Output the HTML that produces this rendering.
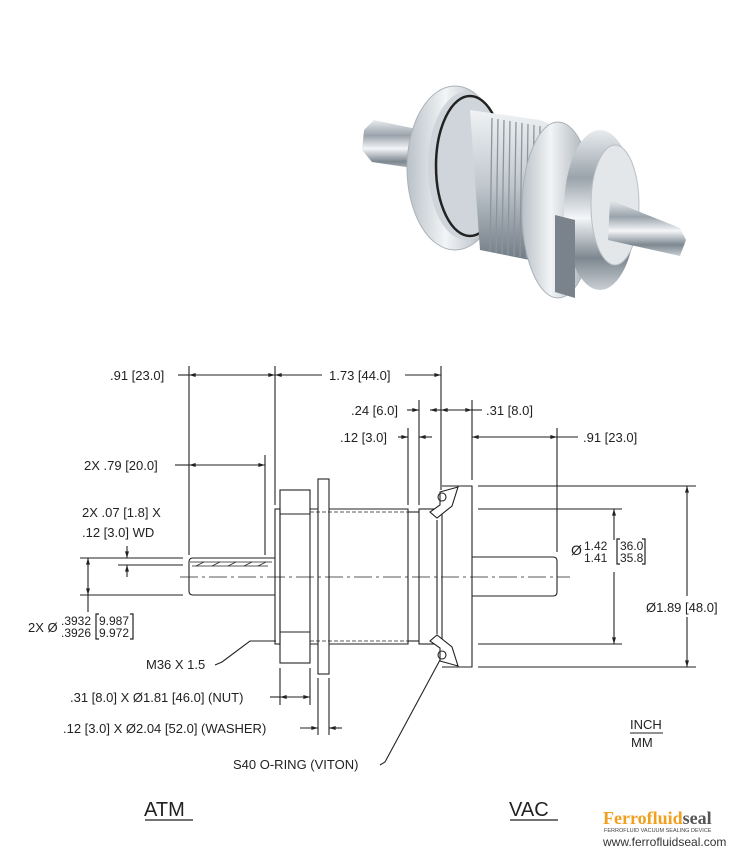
<!DOCTYPE html>
<html><head><meta charset="utf-8"><style>
html,body{margin:0;padding:0;background:#fff;}
svg{display:block;}
text{font-family:"Liberation Sans",Arial,sans-serif;fill:#222;}
text.logo{font-family:"Liberation Serif",serif;font-weight:bold;}
</style></head><body>
<svg width="750" height="850" viewBox="0 0 750 850" xmlns="http://www.w3.org/2000/svg">
<defs>
<marker id="a" viewBox="0 0 10 6" refX="10" refY="3" markerWidth="8" markerHeight="4" orient="auto-start-reverse" markerUnits="userSpaceOnUse"><path d="M0,0L10,3L0,6z" fill="#222"/></marker>
<linearGradient id="m1" x1="0" y1="0" x2="0" y2="1"><stop offset="0" stop-color="#e8ecef"/><stop offset=".3" stop-color="#9aa3ab"/><stop offset=".55" stop-color="#f4f6f8"/><stop offset=".8" stop-color="#7d8790"/><stop offset="1" stop-color="#c9cfd4"/></linearGradient>
<linearGradient id="m2" x1="0" y1="0" x2="1" y2="0"><stop offset="0" stop-color="#b9c1c8"/><stop offset=".4" stop-color="#f2f4f6"/><stop offset="1" stop-color="#9aa3ab"/></linearGradient>
<linearGradient id="m3" x1="0" y1="0" x2="0" y2="1"><stop offset="0" stop-color="#f0f2f4"/><stop offset=".5" stop-color="#c0c7cd"/><stop offset="1" stop-color="#6f7983"/></linearGradient>
</defs>

<g>
<polygon points="364,130 374,120 445,135 440,172 372,162 362,150" fill="url(#m1)"/>
<ellipse cx="455" cy="168" rx="48" ry="82" fill="url(#m2)" stroke="#aab2b9"/>
<ellipse cx="466" cy="166" rx="38" ry="74" fill="#cfd5da"/>
<ellipse cx="470" cy="166" rx="34" ry="70" fill="none" stroke="#222" stroke-width="2.5"/>
<polygon points="470,110 540,120 560,128 560,255 540,262 480,250" fill="url(#m3)"/>
<g stroke="#8c959d" stroke-width="1.3">
<line x1="492" y1="118" x2="490" y2="252"/><line x1="498" y1="119" x2="496" y2="253"/><line x1="504" y1="120" x2="502" y2="254"/><line x1="510" y1="121" x2="508" y2="255"/><line x1="516" y1="122" x2="514" y2="256"/><line x1="522" y1="123" x2="520" y2="257"/><line x1="528" y1="124" x2="526" y2="258"/><line x1="534" y1="125" x2="532" y2="259"/><line x1="540" y1="126" x2="538" y2="260"/><line x1="546" y1="127" x2="544" y2="261"/><line x1="552" y1="128" x2="550" y2="261"/>
</g>
<ellipse cx="558" cy="210" rx="36" ry="88" fill="url(#m2)" stroke="#aab2b9"/>
<ellipse cx="600" cy="210" rx="36" ry="80" fill="url(#m1)"/>
<ellipse cx="615" cy="205" rx="24" ry="60" fill="#e3e7ea" stroke="#b8bfc5"/>
<polygon points="555,215 575,220 575,298 555,292" fill="#7a838b"/>
<polygon points="610,200 680,228 686,240 680,256 608,240" fill="url(#m1)"/>
</g>

<g stroke="#222" stroke-width="1.1" fill="none">
<line x1="180" y1="577" x2="570" y2="577" stroke-dasharray="18,4,3,4" stroke-width=".8"/>
<path d="M275,558 H193 Q189,558 189,562 V591 Q189,595 193,595 H275"/>
<path d="M190,562 H272 M192,566 H268" stroke-width=".8"/>
<path d="M196,566 l8,-4 M212,566 l8,-4 M228,566 l8,-4 M244,566 l8,-4 M258,566 l8,-4" stroke-width=".7"/>
<rect x="275" y="509" width="5" height="135"/>
<rect x="280" y="490" width="30" height="173"/>
<line x1="280" y1="514" x2="310" y2="514"/><line x1="280" y1="632" x2="310" y2="632"/>
<rect x="318" y="479" width="11" height="195"/>
<path d="M310,509 H318 M329,509 H408 V644 H329 M318,644 H310"/>
<path d="M310,512 H408 M310,641 H408" stroke-dasharray="4,2" stroke-width=".7"/>
<line x1="408" y1="512" x2="419" y2="512"/><line x1="408" y1="641" x2="419" y2="641"/>
<rect x="419" y="509" width="23" height="135"/>
<line x1="437" y1="520" x2="437" y2="634"/>
<path d="M442,486 H472 V667 H442"/>
<path d="M440,492 L458,487 L452,506 L437,518 L430,512 L440,505 Z" fill="#fff"/>
<circle cx="442" cy="497" r="4"/>
<path d="M440,661 L458,666 L452,647 L437,635 L430,641 L440,648 Z" fill="#fff"/>
<circle cx="442" cy="655" r="4"/>
<path d="M472,557 H553 Q557,557 557,561 V592 Q557,596 553,596 H472"/>

<line x1="189" y1="366" x2="189" y2="555"/>
<line x1="275" y1="366" x2="275" y2="505"/>
<line x1="441" y1="366" x2="441" y2="490"/>
<line x1="419" y1="400" x2="419" y2="505"/>
<line x1="472" y1="400" x2="472" y2="480"/>
<line x1="408" y1="428" x2="408" y2="505"/>
<line x1="557" y1="428" x2="557" y2="552"/>
<line x1="265" y1="455" x2="265" y2="555"/>
<line x1="80" y1="558" x2="183" y2="558"/>
<line x1="118" y1="565" x2="183" y2="565"/>
<line x1="80" y1="595" x2="183" y2="595"/>
<line x1="478" y1="509" x2="622" y2="509"/><line x1="478" y1="644" x2="622" y2="644"/>
<line x1="478" y1="486" x2="696" y2="486"/><line x1="478" y1="667" x2="696" y2="667"/>
<line x1="280" y1="668" x2="280" y2="705"/><line x1="310" y1="668" x2="310" y2="705"/>
<line x1="318" y1="678" x2="318" y2="735"/><line x1="329" y1="678" x2="329" y2="735"/>

<line x1="178" y1="375" x2="189" y2="375"/>
<line x1="189" y1="375" x2="275" y2="375" marker-start="url(#a)" marker-end="url(#a)"/>
<line x1="275" y1="375" x2="322" y2="375" marker-start="url(#a)"/>
<line x1="405" y1="375" x2="441" y2="375" marker-end="url(#a)"/>
<line x1="407" y1="410" x2="419" y2="410" marker-end="url(#a)"/>
<line x1="441" y1="410" x2="430" y2="410" marker-end="url(#a)"/>
<line x1="441" y1="410" x2="472" y2="410" marker-start="url(#a)" marker-end="url(#a)"/>
<line x1="472" y1="410" x2="482" y2="410"/>
<line x1="398" y1="437" x2="408" y2="437" marker-end="url(#a)"/>
<line x1="432" y1="437" x2="419" y2="437" marker-end="url(#a)"/>
<line x1="472" y1="437" x2="557" y2="437" marker-start="url(#a)" marker-end="url(#a)"/>
<line x1="557" y1="437" x2="578" y2="437"/>
<line x1="175" y1="465" x2="189" y2="465"/>
<line x1="189" y1="465" x2="265" y2="465" marker-start="url(#a)" marker-end="url(#a)"/>
<line x1="127" y1="546" x2="127" y2="558" marker-end="url(#a)"/>
<line x1="127" y1="577" x2="127" y2="565" marker-end="url(#a)"/>
<line x1="88" y1="558" x2="88" y2="595" marker-start="url(#a)" marker-end="url(#a)"/>
<line x1="88" y1="595" x2="88" y2="612"/>
<line x1="614" y1="509" x2="614" y2="540" marker-start="url(#a)"/>
<line x1="614" y1="572" x2="614" y2="644" marker-end="url(#a)"/>
<line x1="687" y1="486" x2="687" y2="596" marker-start="url(#a)"/>
<line x1="687" y1="617" x2="687" y2="667" marker-end="url(#a)"/>
<line x1="270" y1="697" x2="280" y2="697"/>
<line x1="280" y1="697" x2="310" y2="697" marker-start="url(#a)" marker-end="url(#a)"/>
<line x1="300" y1="728" x2="318" y2="728" marker-end="url(#a)"/>
<line x1="342" y1="728" x2="329" y2="728" marker-end="url(#a)"/>
<path d="M215,665 L222,662 L250,641 H276"/>
<path d="M380,765 L385,762 L440,660"/>
<line x1="630" y1="733" x2="663" y2="733"/>
<line x1="145" y1="820" x2="193" y2="820" stroke-width="1.3"/>
<line x1="510" y1="820" x2="558" y2="820" stroke-width="1.3"/>
<path d="M99,614 H96 V639 H99 M130,614 H133 V639 H130" stroke-width="1.2"/>
<path d="M620,539 H617 V564 H620 M642,539 H645 V564 H642" stroke-width="1.2"/>
</g>

<g font-size="13">
<text x="110" y="380">.91 [23.0]</text>
<text x="329" y="380">1.73 [44.0]</text>
<text x="351" y="415">.24 [6.0]</text>
<text x="486" y="415">.31 [8.0]</text>
<text x="340" y="442">.12 [3.0]</text>
<text x="583" y="442">.91 [23.0]</text>
<text x="84" y="470">2X .79 [20.0]</text>
<text x="82" y="517">2X .07 [1.8] X</text>
<text x="82" y="537">.12 [3.0] WD</text>
<text x="28" y="632">2X Ø</text>
<text x="61" y="625" font-size="12">.3932</text>
<text x="61" y="637" font-size="12">.3926</text>
<text x="99" y="625" font-size="12">9.987</text>
<text x="99" y="637" font-size="12">9.972</text>
<text x="146" y="669">M36 X 1.5</text>
<text x="70" y="702">.31 [8.0] X Ø1.81 [46.0] (NUT)</text>
<text x="63" y="733">.12 [3.0] X Ø2.04 [52.0] (WASHER)</text>
<text x="233" y="769">S40 O-RING (VITON)</text>
<text x="571" y="555" font-size="14">Ø</text>
<text x="584" y="550" font-size="12">1.42</text>
<text x="584" y="562" font-size="12">1.41</text>
<text x="620" y="550" font-size="12">36.0</text>
<text x="620" y="562" font-size="12">35.8</text>
<text x="646" y="612">Ø1.89 [48.0]</text>
<text x="630" y="729">INCH</text>
<text x="631" y="747">MM</text>
<text x="144" y="816" font-size="20">ATM</text>
<text x="509" y="816" font-size="20">VAC</text>
</g>
<text class="logo" x="603" y="824" font-size="18" style="fill:#f0a01e">Ferrofluid<tspan style="fill:#555">seal</tspan></text>
<text x="604" y="832" font-size="5.5" style="fill:#444">FERROFLUID VACUUM SEALING DEVICE</text>
<text x="603" y="846" font-size="12" style="fill:#333">www.ferrofluidseal.com</text>
</svg>
</body></html>
